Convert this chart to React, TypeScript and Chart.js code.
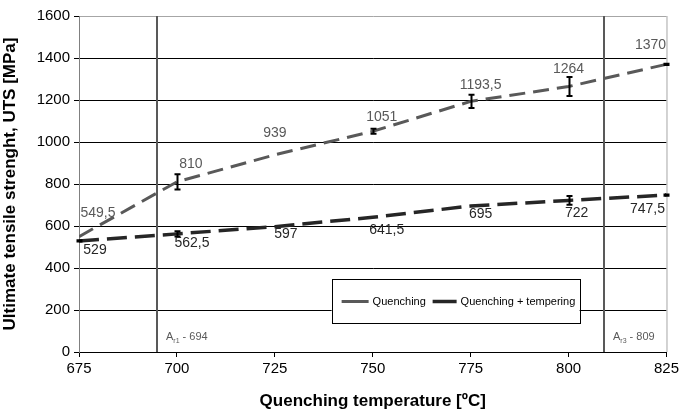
import React, { useEffect, useRef } from "react";
import { Chart, registerables } from "chart.js";

Chart.register(...registerables);

const temperatures = [675, 700, 725, 750, 775, 800, 825];
const quenching = [549.5, 810, 939, 1051, 1193.5, 1264, 1370];
const quenchingErr = [0, 36, 0, 12, 31, 45, 3];
const quenchingLabels = ["549,5", "810", "939", "1051", "1193,5", "1264", "1370"];
const tempering = [529, 562.5, 597, 641.5, 695, 722, 747.5];
const temperingErr = [3, 12, 0, 0, 0, 21, 3];
const temperingLabels = ["529", "562,5", "597", "641,5", "695", "722", "747,5"];

// label nudges (pixels) relative to each point
const qNudgeX = [19, 14, 0, 9, 10, 0, -16];
const qNudgeY = [-23, -18, -22, -14, -16, -17, -19];
const tNudgeX = [16, 15, 11, 14, 10, 8, -19];
const tNudgeY = [9, 9, 8, 13, 8, 13, 14];

const criticalTemps = [694.8, 809];
const criticalSub = ["r1", "r3"];
const criticalVal = ["694", "809"];

const seriesNames = ["Quenching", "Quenching + tempering"];
const FONT = "'Liberation Sans', Arial, sans-serif";

export default function App() {
  const ref = useRef<HTMLCanvasElement>(null);
  useEffect(() => {
    const canvas = ref.current!;
    const overlay = {
      id: "overlay",
      beforeDatasetsDraw(chart: any) {
        const { ctx, chartArea: a, scales } = chart;
        const xs = scales.x;
        ctx.save();
        ctx.strokeStyle = "#a6a6a6";
        ctx.lineWidth = 1;
        ctx.beginPath();
        ctx.moveTo(a.right + 0.5, a.top);
        ctx.lineTo(a.right + 0.5, a.bottom);
        ctx.stroke();
        criticalTemps.forEach((t, i) => {
          const px = Math.round(xs.getPixelForValue(t));
          ctx.strokeStyle = "#595959";
          ctx.lineWidth = 2;
          ctx.beginPath();
          ctx.moveTo(px, a.top);
          ctx.lineTo(px, a.bottom);
          ctx.stroke();
          ctx.fillStyle = "#595959";
          ctx.textBaseline = "alphabetic";
          ctx.textAlign = "left";
          let x0 = px + 9;
          const y0 = a.bottom - 12;
          ctx.font = `11px ${FONT}`;
          ctx.fillText("A", x0, y0);
          x0 += ctx.measureText("A").width;
          ctx.font = `7px ${FONT}`;
          ctx.fillText(criticalSub[i], x0, y0 + 3);
          x0 += ctx.measureText(criticalSub[i]).width;
          ctx.font = `11px ${FONT}`;
          ctx.fillText(" - " + criticalVal[i], x0, y0);
        });
        ctx.restore();
      },
      afterDatasetsDraw(chart: any) {
        const { ctx, scales } = chart;
        const xs = scales.x;
        const ys = scales.y;
        ctx.save();
        // error bars
        const drawErr = (vals: number[], errs: number[]) => {
          vals.forEach((v, i) => {
            if (!errs[i]) return;
            const px = Math.round(xs.getPixelForValue(temperatures[i])) + 0.5;
            const top = ys.getPixelForValue(v + errs[i]);
            const bot = ys.getPixelForValue(v - errs[i]);
            ctx.strokeStyle = "#000";
            ctx.lineWidth = 2;
            ctx.beginPath();
            ctx.moveTo(px, top);
            ctx.lineTo(px, bot);
            ctx.moveTo(px - 3, top);
            ctx.lineTo(px + 3, top);
            ctx.moveTo(px - 3, bot);
            ctx.lineTo(px + 3, bot);
            ctx.stroke();
          });
        };
        drawErr(quenching, quenchingErr);
        drawErr(tempering, temperingErr);
        // data labels
        ctx.font = `14px ${FONT}`;
        ctx.textAlign = "center";
        ctx.textBaseline = "middle";
        quenching.forEach((v, i) => {
          ctx.fillStyle = "#595959";
          ctx.fillText(
            quenchingLabels[i],
            xs.getPixelForValue(temperatures[i]) + qNudgeX[i],
            ys.getPixelForValue(v) + qNudgeY[i]
          );
        });
        tempering.forEach((v, i) => {
          ctx.fillStyle = "#262626";
          ctx.fillText(
            temperingLabels[i],
            xs.getPixelForValue(temperatures[i]) + tNudgeX[i],
            ys.getPixelForValue(v) + tNudgeY[i]
          );
        });
        // legend
        const lx = xs.getPixelForValue(739.5);
        const ly = ys.getPixelForValue(350);
        const lw = 248;
        const lh = 44;
        ctx.fillStyle = "#fff";
        ctx.fillRect(lx, ly, lw, lh);
        ctx.strokeStyle = "#000";
        ctx.lineWidth = 1;
        ctx.strokeRect(Math.round(lx) + 0.5, Math.round(ly) + 0.5, lw, lh);
        const cy = Math.round(ly + lh / 2) + 0.5;
        ctx.font = `11px ${FONT}`;
        ctx.textAlign = "left";
        ctx.textBaseline = "middle";
        ctx.strokeStyle = "#595959";
        ctx.lineWidth = 3;
        ctx.beginPath();
        ctx.moveTo(lx + 10, cy);
        ctx.lineTo(lx + 37, cy);
        ctx.stroke();
        ctx.fillStyle = "#000";
        ctx.fillText(seriesNames[0], lx + 41, cy);
        ctx.strokeStyle = "#262626";
        ctx.lineWidth = 3.5;
        ctx.beginPath();
        ctx.moveTo(lx + 101, cy);
        ctx.lineTo(lx + 125, cy);
        ctx.stroke();
        ctx.fillText(seriesNames[1], lx + 129, cy);
        ctx.restore();
      },
    };
    const chart = new Chart(canvas, {
      type: "line",
      data: {
        datasets: [
          {
            label: seriesNames[0],
            data: temperatures.map((t, i) => ({ x: t, y: quenching[i] })),
            borderColor: "#595959",
            borderWidth: 3,
            borderDash: [16, 8],
            pointRadius: 0,
            tension: 0,
          },
          {
            label: seriesNames[1],
            data: temperatures.map((t, i) => ({ x: t, y: tempering[i] })),
            borderColor: "#262626",
            borderWidth: 3.5,
            borderDash: [20, 8],
            pointRadius: 0,
            tension: 0,
          },
        ],
      },
      options: {
        responsive: false,
        animation: false,
        layout: { padding: { top: 16, right: 13, left: 0, bottom: 0 } },
        plugins: { legend: { display: false }, tooltip: { enabled: false } },
        scales: {
          x: {
            type: "linear",
            min: 675,
            max: 825,
            afterFit: (s: any) => {
              s.height = 60;
            },
            ticks: {
              stepSize: 25,
              color: "#000",
              font: { size: 15, family: FONT },
              padding: 3,
              maxRotation: 0,
              callback: (v: any) => String(v),
            },
            grid: {
              drawOnChartArea: false,
              drawTicks: true,
              tickLength: 5,
              color: "#000",
            },
            border: { color: "#000", width: 1 },
            title: {
              display: true,
              text: "Quenching temperature [ºC]",
              color: "#000",
              font: { size: 17, weight: "bold", family: FONT },
              padding: { top: 6, bottom: 0 },
            },
          },
          y: {
            min: 0,
            max: 1600,
            afterFit: (s: any) => {
              s.width = 79;
            },
            ticks: {
              stepSize: 200,
              color: "#000",
              font: { size: 15, family: FONT },
              padding: 4,
              callback: (v: any) => String(v),
            },
            grid: {
              color: (c: any) => (c.tick && c.tick.value === 1600 ? "#a6a6a6" : "#000"),
              lineWidth: 1,
              tickLength: 5,
              tickColor: "#000",
            },
            border: { color: "#808080", width: 1 },
            title: {
              display: true,
              text: "Ultimate tensile strenght, UTS [MPa]",
              color: "#000",
              font: { size: 17, weight: "bold", family: FONT },
              padding: { top: 0, bottom: 2 },
            },
          },
        },
      },
      plugins: [overlay],
    } as any);
    return () => chart.destroy();
  }, []);
  return (
    <div style={{ position: "fixed", left: 0, top: 0, width: 682, height: 412, background: "#fff" }}>
      <canvas ref={ref} width={682} height={412} />
    </div>
  );
}
